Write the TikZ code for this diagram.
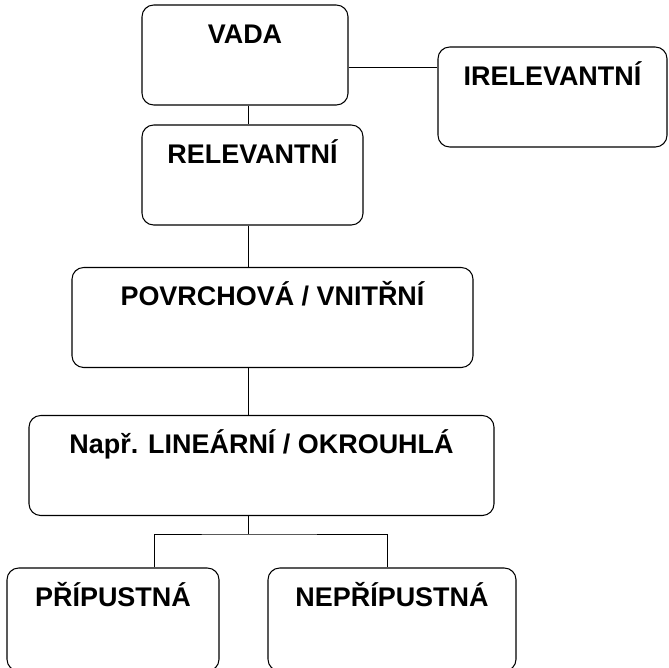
\documentclass[tikz,border=0pt]{standalone}
\usepackage{fontspec}
\setmainfont{Liberation Sans}
\usetikzlibrary{positioning,calc}

\begin{document}
\begin{tikzpicture}[x=0.03cm, y=-0.03cm, line width=0.9pt,
  stage/.style={draw, rounded corners=10pt, inner sep=0pt, align=center,
    text height=1.14cm, text depth=1.86cm, font=\fontsize{23}{27}\selectfont\bfseries},
  link/.style={line width=0.8pt}]
\useasboundingbox (0,0) rectangle (668,668);
% boxes
\node[stage, minimum width=6.18cm] (vada) at (245,55) {VADA};
\node[stage, minimum width=6.87cm] (irel) at (552.5,97) {IRELEVANTNÍ};
\node[stage, minimum width=6.63cm] (rel) at (252.5,175) {RELEVANTNÍ};
\node[stage, minimum width=12.03cm] (pov) at (272.5,317.5) {POVRCHOVÁ / VNITŘNÍ};
\node[stage, minimum width=13.95cm] (lin) at (261.5,465.5) {Např. LINEÁRNÍ / OKROUHLÁ};
\node[stage, minimum width=6.36cm, text depth=1.95cm] (pri) at (113,619.5) {PŘÍPUSTNÁ};
\node[stage, minimum width=7.44cm, text depth=1.95cm] (nep) at (392,619.5) {NEPŘÍPUSTNÁ};
% connectors
\coordinate (spine) at (248,0);
\coordinate (fork) at (248,534);
\draw[link] (vada.east) ++(0,12) coordinate (side) -- (side -| irel.west);
\draw[link] (vada.south -| spine) -- (rel.north -| spine);
\draw[link] (rel.south -| spine) -- (pov.north -| spine);
\draw[link] (pov.south -| spine) -- (lin.north -| spine);
\draw[link] (lin.south -| spine) -- (fork);
\draw[link] (pri.north -| 154,0) |- (fork) -| (nep.north -| 387,0);
\end{tikzpicture}
\end{document}
